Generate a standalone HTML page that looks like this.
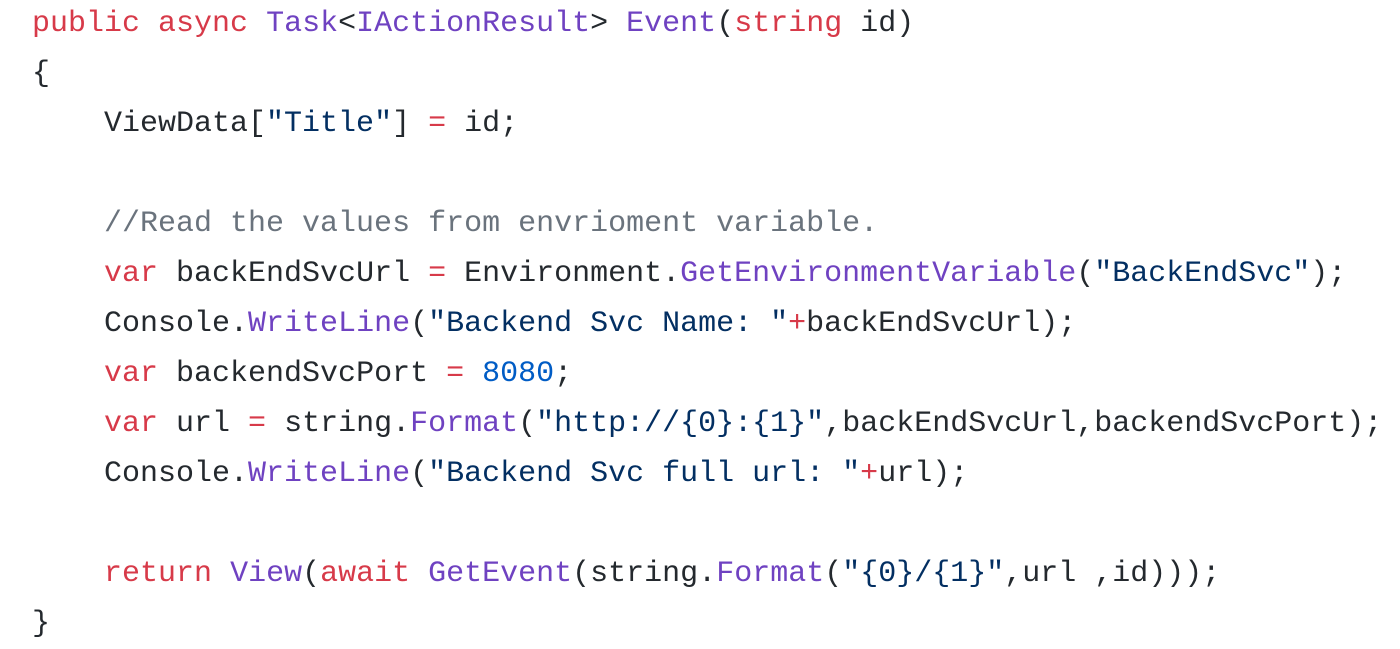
<!DOCTYPE html>
<html><head><meta charset="utf-8"><style>
html,body{margin:0;padding:0;background:#fff;width:1400px;height:644px;overflow:hidden}
pre{margin:0;position:absolute;left:32px;top:-1px;font-family:"Liberation Mono",monospace;font-size:30px;line-height:50px;color:#24292e}
.k{color:#d73a49}.t{color:#6f42c1}.s{color:#032f62}.n{color:#005cc5}.c{color:#6a737d}
</style></head><body>
<pre><span class="k">public</span> <span class="k">async</span> <span class="t">Task</span>&lt;<span class="t">IActionResult</span>&gt; <span class="t">Event</span>(<span class="k">string</span> id)
{
    ViewData[<span class="s">"Title"</span>] <span class="k">=</span> id;

    <span class="c">//Read the values from envrioment variable.</span>
    <span class="k">var</span> backEndSvcUrl <span class="k">=</span> Environment.<span class="t">GetEnvironmentVariable</span>(<span class="s">"BackEndSvc"</span>);
    Console.<span class="t">WriteLine</span>(<span class="s">"Backend Svc Name: "</span><span class="k">+</span>backEndSvcUrl);
    <span class="k">var</span> backendSvcPort <span class="k">=</span> <span class="n">8080</span>;
    <span class="k">var</span> url <span class="k">=</span> string.<span class="t">Format</span>(<span class="s">"http://{0}:{1}"</span>,backEndSvcUrl,backendSvcPort);
    Console.<span class="t">WriteLine</span>(<span class="s">"Backend Svc full url: "</span><span class="k">+</span>url);

    <span class="k">return</span> <span class="t">View</span>(<span class="k">await</span> <span class="t">GetEvent</span>(string.<span class="t">Format</span>(<span class="s">"{0}/{1}"</span>,url ,id)));
}</pre>
</body></html>
